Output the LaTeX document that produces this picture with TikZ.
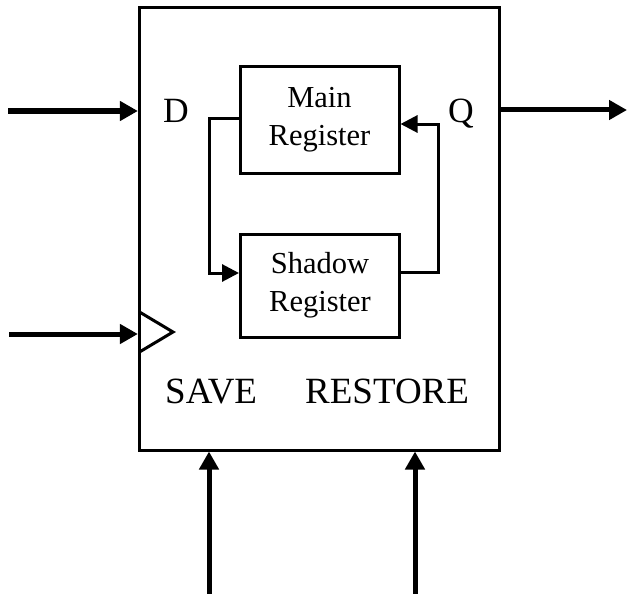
\documentclass[tikz,border=0pt]{standalone}
\usepackage{fontspec}
\setmainfont{Liberation Serif}
\usetikzlibrary{arrows.meta}

\tikzset{
  reg/.style={draw, line width=3pt, minimum width=159pt, align=center,
    inner sep=0pt, font=\fontsize{30.5}{38}\selectfont},
  lbl/.style={inner sep=0pt, font=\fontsize{35.5}{40}\selectfont},
  ctl/.style={inner sep=0pt, font=\fontsize{37}{40}\selectfont},
  sig/.style={line width=5pt, -{Triangle[length=18pt,width=19pt]}},
  fb/.style={line width=3pt, -{Triangle[length=17pt,width=17pt]}}
}

\begin{document}
\begin{tikzpicture}[x=1pt,y=-1pt]
  \useasboundingbox (0,0) rectangle (627,594);

  \node[draw, line width=3pt, minimum width=360pt, minimum height=442pt,
    inner sep=0pt] (blk) at (319.4,229) {};

  \node[reg, minimum height=107pt] (main)   at (319.5,120) {Main\\Register};
  \node[reg, minimum height=103pt] (shadow) at (320,285.5)   {Shadow\\Register};

  \node[lbl, anchor=base west] (d)  at (163,122) {D};
  \node[lbl, anchor=base west] (q)  at (448,122) {Q};
  \node[ctl, anchor=base west] (sv) at (165,403) {SAVE};
  \node[ctl, anchor=base west] (rs) at (305,403) {RESTORE};

  \coordinate (din)  at (8,111);
  \coordinate (clk)  at (9,334);
  \coordinate (qout) at (627,110);
  \coordinate (svin) at (209,594);
  \coordinate (rsin) at (415,594);

  \draw[sig] (din) -- (din -| blk.west);
  \draw[sig] (clk) -- (clk -| blk.west);
  \draw[sig] (qout -| blk.east) -- (qout);
  \draw[sig] (svin) -- (svin |- blk.south);
  \draw[sig] (rsin) -- (rsin |- blk.south);

  % clock input
  \draw[line width=3pt] (139.5,312) -- (173,332) -- (139.5,352);

  \draw[fb] ([yshift=1.5pt]main.west) -- ++(-29,0) |- ([yshift=12.5pt]shadow.west);
  \draw[fb] ([yshift=13.5pt]shadow.east) -- ++(37,0) |- ([yshift=-4pt]main.east);
\end{tikzpicture}
\end{document}
